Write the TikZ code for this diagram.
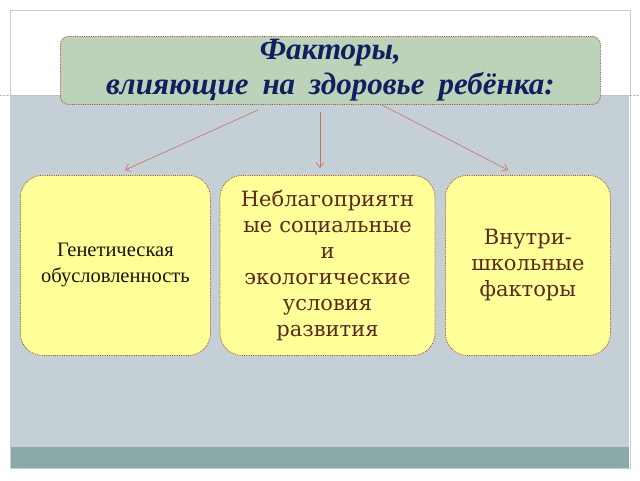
\documentclass[tikz,border=0pt]{standalone}
\usepackage{fontspec}
\setmainfont{Liberation Serif}
\newfontfamily\dvs{DejaVu Serif}
\usetikzlibrary{arrows.meta}
\definecolor{bg}{HTML}{C5D0D6}
\definecolor{teal}{HTML}{8AAAA9}
\definecolor{ttl}{HTML}{BCD2B9}
\definecolor{yel}{HTML}{FFFF99}
\definecolor{brd}{HTML}{A0522D}
\definecolor{navy}{HTML}{0F2060}
\definecolor{txt}{HTML}{5A2A1A}
\definecolor{arr}{HTML}{C87060}
\tikzset{
 fbox/.style={draw=brd, densely dotted, line width=0.8pt, fill=yel, rounded corners=22pt, align=center, text=txt, anchor=north west},
 con/.style={draw=arr, line width=0.6pt, -{Straight Barb[length=5pt,width=8pt]}}
}
\begin{document}
\begin{tikzpicture}[x=1pt,y=-1pt]
\useasboundingbox (0,0) rectangle (640,480);
\fill[white] (0,0) rectangle (640,480);
\draw[gray!40, fill=white] (10,10) rectangle (630,468);
\fill[bg] (11,95) rectangle (629,447);
\draw[gray!50, densely dotted] (0,95) -- (640,95);
\fill[teal] (11,447) rectangle (629,468);
\node[fbox, minimum width=190pt, minimum height=180pt, text width=186pt, inner sep=2pt, text=black!85!brown, font=\fontsize{20.5}{26}\selectfont] (g) at (20,175) {Генетическая\\обусловленность};
\node[fbox, minimum width=215pt, minimum height=180pt, text width=211pt, font=\dvs\fontsize{21}{26}\selectfont, anchor=north, inner sep=2pt] (s) at (327.5,175) {Неблагоприятн\\ые социальные\\и\\экологические\\условия\\развития\\[2pt]};
\node[fbox, minimum width=165pt, minimum height=180pt, text width=160pt, inner sep=2pt, font=\dvs\fontsize{21}{26}\selectfont] (v) at (445,175) {Внутри-\\школьные\\факторы\\[8pt]};
\draw[white, line width=1pt, fill=bg] (308,100) arc (180:360:12 and 10);
\node[draw=brd, densely dotted, line width=0.8pt, fill=ttl, rounded corners=8pt, minimum width=540pt, minimum height=68pt, anchor=north west, align=center, text=navy, inner sep=0pt, font=\bfseries\itshape\fontsize{31}{35}\selectfont] (t) at (60,36) {\raisebox{0pt}[18pt]{}Факторы,\\влияющие\hspace{14pt}на\hspace{14pt}здоровье\hspace{14pt}ребёнка:};
\coordinate (a1) at (258,110);
\coordinate (a2) at (320,112);
\coordinate (a3) at (382,105);
\draw[con] (a1) -- (125,170);
\draw[con] (a2) -- (320,168);
\draw[con] (a3) -- (508,170);
\end{tikzpicture}
\end{document}
